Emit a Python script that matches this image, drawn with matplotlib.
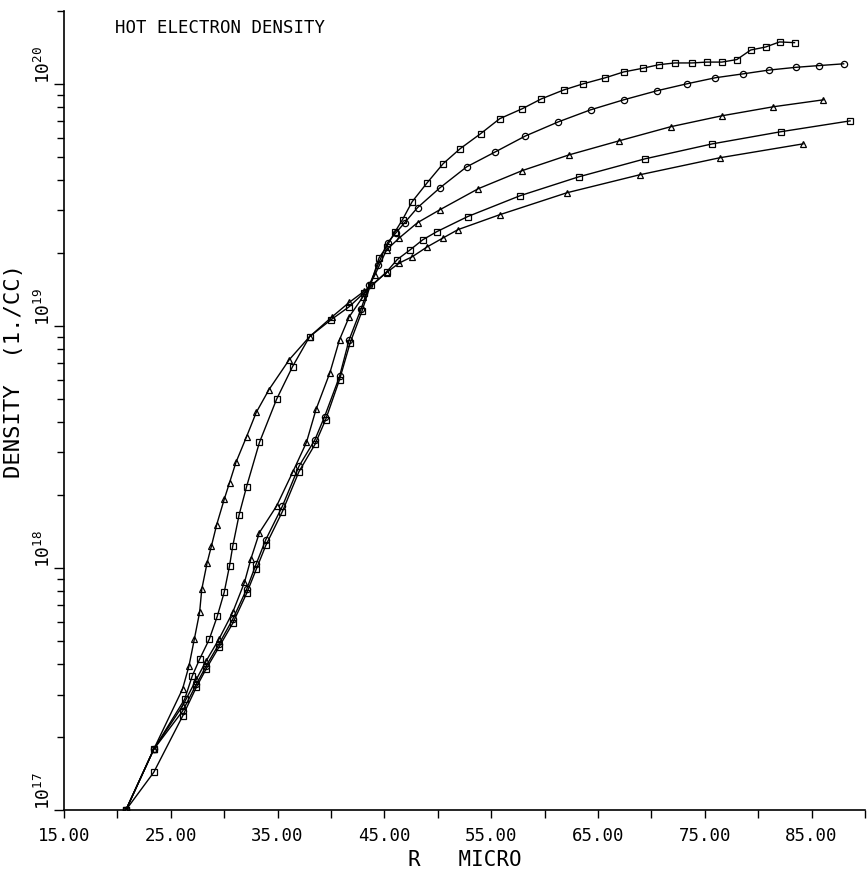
import matplotlib.pyplot as plt
from matplotlib.ticker import FixedLocator, LogLocator, NullFormatter

plt.rcParams['font.family'] = ['DejaVu Sans Mono']
plt.rcParams['mathtext.default'] = 'regular'

# radius (micron) / hot electron density (1/cc), five profiles
r1 = [20.8, 23.4, 26.1, 27.4, 28.3, 29.5, 30.8, 32.1, 33.0, 33.9, 35.45, 37.0, 38.5, 39.5, 40.8,
      41.8, 42.9, 43.7, 44.5, 45.2, 46.0, 46.7, 47.6, 49.0, 50.5, 52.1, 54.0, 55.8, 57.9, 59.7,
      61.8, 63.6, 65.7, 67.4, 69.2, 70.7, 72.2, 73.8, 75.2, 76.6, 78.0, 79.3, 80.7, 82.0, 83.4]
n1 = [1.0e17, 1.43e17, 2.44e17, 3.22e17, 3.82e17, 4.70e17, 5.91e17, 7.85e17, 9.87e17, 1.24e18,
      1.71e18, 2.50e18, 3.24e18, 4.10e18, 6.00e18, 8.53e18, 1.15e19, 1.48e19, 1.91e19, 2.12e19,
      2.45e19, 2.75e19, 3.26e19, 3.90e19, 4.68e19, 5.40e19, 6.22e19, 7.18e19, 7.89e19, 8.67e19,
      9.44e19, 1.00e20, 1.06e20, 1.12e20, 1.16e20, 1.20e20, 1.22e20, 1.22e20, 1.23e20, 1.23e20,
      1.26e20, 1.38e20, 1.42e20, 1.49e20, 1.48e20]

r2 = [20.8, 23.4, 26.1, 27.4, 28.3, 29.5, 30.8, 32.1, 33.0, 33.9, 35.45, 37.0, 38.5, 39.4, 40.8,
      41.7, 42.8, 43.6, 44.4, 45.3, 46.1, 46.9, 48.1, 50.2, 52.7, 55.4, 58.2, 61.3, 64.3, 67.4,
      70.5, 73.3, 76.0, 78.6, 81.0, 83.5, 85.7, 88.0]
n2 = [1.0e17, 1.78e17, 2.56e17, 3.31e17, 3.93e17, 4.84e17, 6.14e17, 8.16e17, 1.04e18, 1.31e18,
      1.80e18, 2.63e18, 3.39e18, 4.22e18, 6.18e18, 8.77e18, 1.17e19, 1.48e19, 1.79e19, 2.21e19,
      2.43e19, 2.67e19, 3.08e19, 3.72e19, 4.54e19, 5.24e19, 6.09e19, 6.97e19, 7.81e19, 8.59e19,
      9.36e19, 1.00e20, 1.06e20, 1.10e20, 1.14e20, 1.17e20, 1.19e20, 1.21e20]

r3 = [20.8, 23.4, 26.1, 27.4, 28.3, 29.5, 30.8, 31.9, 32.5, 33.3, 34.9, 36.4, 37.7, 38.6, 39.9,
      40.8, 41.7, 43.0, 44.1, 45.2, 46.4, 48.1, 50.2, 53.8, 57.9, 62.3, 67.0, 71.8, 76.6, 81.4, 86.1]
n3 = [1.0e17, 1.78e17, 2.69e17, 3.47e17, 4.12e17, 5.07e17, 6.56e17, 8.72e17, 1.09e18, 1.40e18,
      1.80e18, 2.48e18, 3.30e18, 4.52e18, 6.41e18, 8.77e18, 1.09e19, 1.32e19, 1.62e19, 2.06e19,
      2.31e19, 2.67e19, 3.02e19, 3.69e19, 4.38e19, 5.09e19, 5.82e19, 6.65e19, 7.38e19, 8.04e19, 8.59e19]

r4 = [20.8, 23.4, 26.3, 27.0, 27.7, 28.6, 29.35, 30.0, 30.5, 30.8, 31.4, 32.1, 33.3, 34.9, 36.4,
      38.0, 40.0, 41.7, 43.1, 45.2, 46.2, 47.4, 48.6, 49.9, 52.8, 57.7, 63.2, 69.4, 75.7, 82.1, 88.6]
n4 = [1.0e17, 1.78e17, 2.87e17, 3.57e17, 4.20e17, 5.07e17, 6.31e17, 7.93e17, 1.02e18, 1.23e18,
      1.66e18, 2.17e18, 3.30e18, 4.97e18, 6.79e18, 9.03e18, 1.06e19, 1.20e19, 1.37e19, 1.67e19,
      1.88e19, 2.06e19, 2.27e19, 2.45e19, 2.83e19, 3.45e19, 4.13e19, 4.90e19, 5.65e19, 6.34e19, 7.03e19]

r5 = [20.8, 23.4, 26.1, 26.7, 27.2, 27.7, 27.9, 28.4, 28.8, 29.3, 30.0, 30.5, 31.1, 32.1, 33.0,
      34.2, 36.1, 38.0, 40.1, 41.7, 43.1, 45.2, 46.4, 47.6, 49.0, 50.5, 51.9, 55.8, 62.1, 68.9,
      76.4, 84.2]
n5 = [1.0e17, 1.78e17, 3.16e17, 3.93e17, 5.07e17, 6.56e17, 8.16e17, 1.05e18, 1.23e18, 1.51e18,
      1.92e18, 2.25e18, 2.73e18, 3.49e18, 4.39e18, 5.46e18, 7.26e18, 9.03e18, 1.09e19, 1.25e19,
      1.39e19, 1.66e19, 1.82e19, 1.93e19, 2.12e19, 2.31e19, 2.50e19, 2.88e19, 3.55e19, 4.21e19,
      4.95e19, 5.65e19]

markers = ['s', 'o', '^', 's', '^']
xticks = [15, 25, 35, 45, 55, 65, 75, 85]
xlabels = ['15.00', '25.00', '35.00', '45.00', '55.00', '65.00', '75.00', '85.00']
yticks = [1e17, 1e18, 1e19, 1e20]
ylabels = [r'$10^{17}$', r'$10^{18}$', r'$10^{19}$', r'$10^{20}$']

fig = plt.figure(figsize=(8.67, 8.72), dpi=100)
ax = fig.add_axes([0.0738, 0.0711, 0.9239, 0.9163])

for r, n, m in zip([r1, r2, r3, r4, r5], [n1, n2, n3, n4, n5], markers):
    ax.plot(r, n, color='black', lw=1.0, marker=m, ms=4.5, mfc='none', mec='black', mew=0.9)

ax.set_yscale('log')
ax.set_xlim(15, 90)
ax.set_ylim(1e17, 2e20)

for s in ['top', 'right']:
    ax.spines[s].set_visible(False)
for s in ['left', 'bottom']:
    ax.spines[s].set_linewidth(1.2)

ax.xaxis.set_major_locator(FixedLocator(xticks))
ax.set_xticklabels(xlabels, fontsize=12.5)
ax.xaxis.set_minor_locator(FixedLocator([20, 30, 40, 50, 60, 70, 80, 90]))
ax.tick_params(axis='x', which='both', direction='out', length=6, width=1.0, pad=6)

ax.yaxis.set_major_locator(FixedLocator(yticks))
ax.set_yticklabels(ylabels, fontsize=13, rotation=90, va='bottom')
ax.yaxis.set_minor_locator(LogLocator(base=10, subs=range(2, 10)))
ax.yaxis.set_minor_formatter(NullFormatter())
ax.tick_params(axis='y', which='major', direction='out', length=7, width=1.0, pad=0)
ax.tick_params(axis='y', which='minor', direction='out', length=5, width=1.0)

ax.set_xlabel('R   MICRO', fontsize=15, labelpad=4)
ax.set_ylabel('DENSITY  (1./CC)', fontsize=16)
ax.yaxis.set_label_coords(-0.05, 0.55)

ax.text(0.064, 0.979, 'HOT ELECTRON DENSITY', transform=ax.transAxes,
        fontsize=12.5, ha='left', va='center')

fig.savefig('out.png', dpi=100, facecolor='white')
